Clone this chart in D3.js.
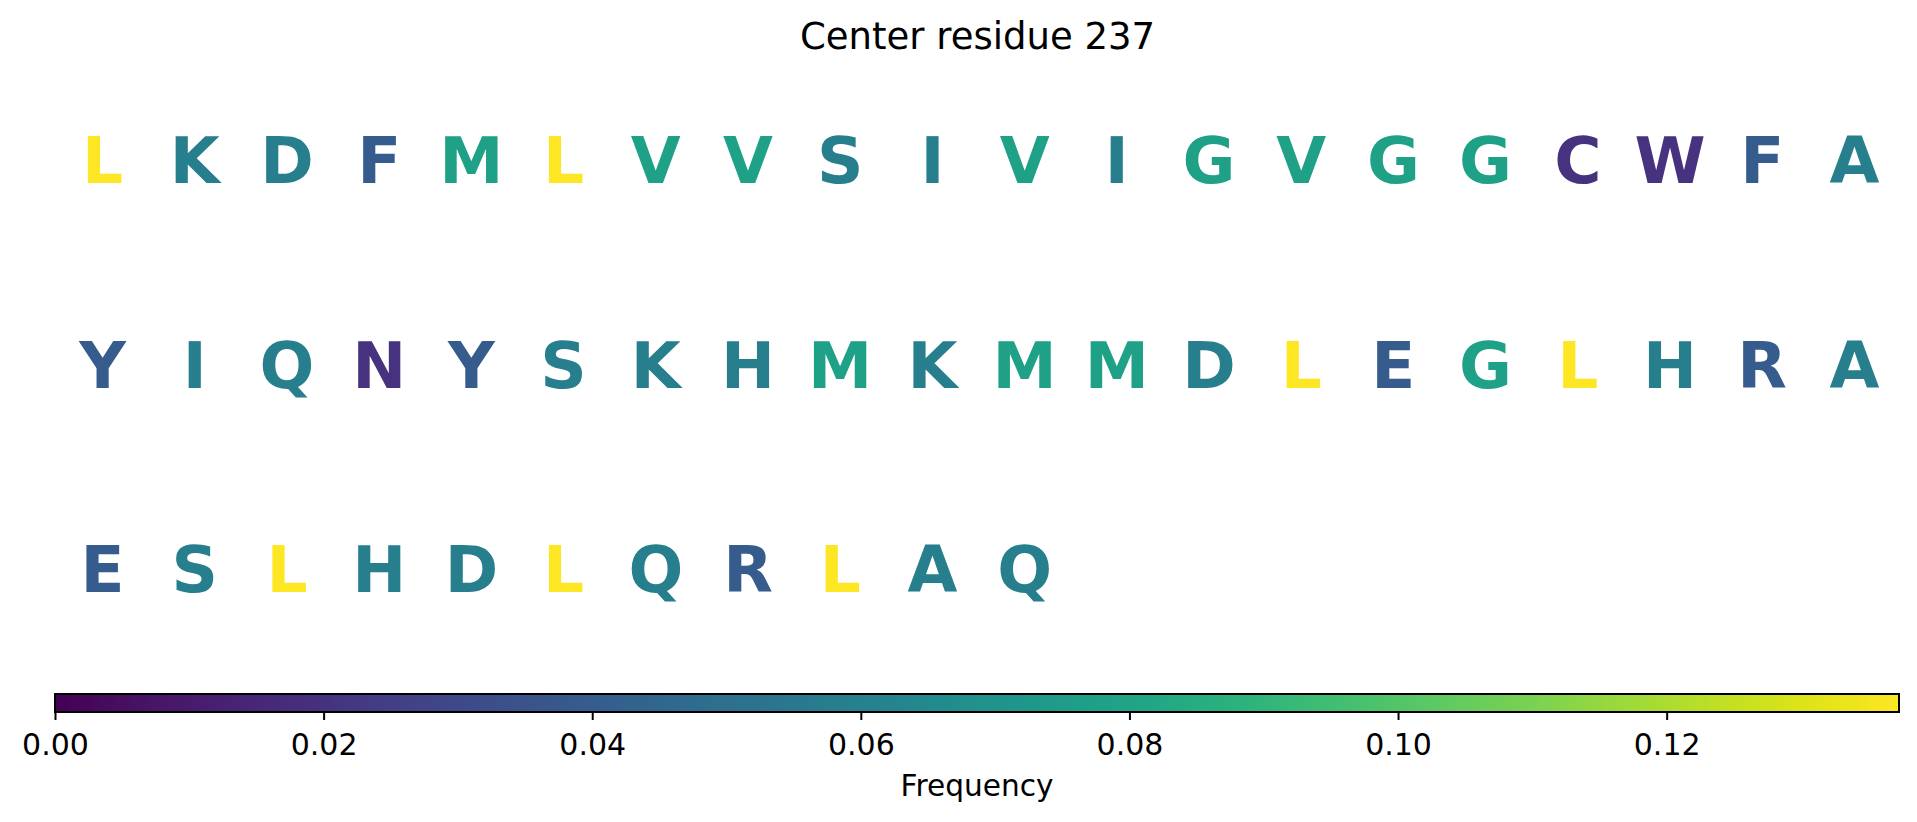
<!DOCTYPE html>
<html>
<head>
<meta charset="utf-8">
<script src="https://cdn.jsdelivr.net/npm/d3@7"></script>
<style>
  html, body { margin: 0; padding: 0; background: #fff; }
  svg { display: block; }
  text { font-family: "DejaVu Sans", sans-serif; }
</style>
</head>
<body>
<svg id="chart" width="1917" height="822"></svg>
<script>
// ---- data ----
const title = "Center residue 237";
const colorbarLabel = "Frequency";
const residues = [
  "L","K","D","F","M","L","V","V","S","I","V","I","G","V","G","G","C","W","F","A",
  "Y","I","Q","N","Y","S","K","H","M","K","M","M","D","L","E","G","L","H","R","A",
  "E","S","L","H","D","L","Q","R","L","A","Q"
];
// frequency of each residue type (colour value of each letter)
const aminoAcids  = ["L","K","D","F","M","V","S","I","G","C","W","A","Y","Q","N","H","E","R"];
const frequencies = [0.1373,0.0588,0.0588,0.0392,0.0784,0.0784,0.0588,0.0588,0.0784,0.0196,0.0196,0.0588,0.0392,0.0588,0.0196,0.0588,0.0392,0.0392];
const colorMin = 0;
const colorMax = 0.1373;
const tickValues = [0.00, 0.02, 0.04, 0.06, 0.08, 0.10, 0.12];
const nCols = 20;

// ---- layout ----
const svg = d3.select("#chart");
const plotLeft = 55, plotRight = 1899;
const gridTop = 57, gridBottom = 671;
const letterSize = 64.5;
const capHeight = 0.729 * letterSize;

const freqOf = new Map(aminoAcids.map((a, i) => [a, frequencies[i]]));
const nRows = Math.ceil(residues.length / nCols);

const x = d3.scaleBand().domain(d3.range(nCols)).range([plotLeft, plotRight]);
const y = d3.scaleBand().domain(d3.range(nRows)).range([gridTop, gridBottom]);
const color = d3.scaleSequential(d3.interpolateViridis).domain([colorMin, colorMax]);

// title
svg.append("text")
  .attr("x", (plotLeft + plotRight) / 2 + 0.5)
  .attr("y", 49)
  .attr("text-anchor", "middle")
  .attr("font-size", 37)
  .attr("fill", "#000")
  .text(title);

// letters
svg.append("g").selectAll("text")
  .data(residues.map((r, i) => ({ r, i })))
  .join("text")
  .attr("x", d => x(d.i % nCols) + x.bandwidth() / 2 + 1.5)
  .attr("y", d => y(Math.floor(d.i / nCols)) + y.bandwidth() / 2 + capHeight / 2)
  .attr("text-anchor", "middle")
  .attr("font-size", letterSize)
  .attr("font-weight", "bold")
  .attr("fill", d => color(freqOf.get(d.r)))
  .text(d => d.r);

// colorbar
const cbTop = 694, cbHeight = 18;
const cx = d3.scaleLinear().domain([colorMin, colorMax]).range([plotLeft, plotRight]);
const defs = svg.append("defs");
const grad = defs.append("linearGradient").attr("id", "viridisGrad")
  .attr("x1", "0%").attr("x2", "100%").attr("y1", "0%").attr("y2", "0%");
grad.selectAll("stop")
  .data(d3.range(0, 1.0001, 0.02))
  .join("stop")
  .attr("offset", d => (d * 100) + "%")
  .attr("stop-color", d => d3.interpolateViridis(d));

svg.append("rect")
  .attr("x", plotLeft).attr("y", cbTop)
  .attr("width", plotRight - plotLeft).attr("height", cbHeight)
  .attr("fill", "url(#viridisGrad)")
  .attr("stroke", "#000").attr("stroke-width", 2);

const axis = d3.axisBottom(cx)
  .tickValues(tickValues)
  .tickFormat(d3.format(".2f"))
  .tickSize(8)
  .tickPadding(6);

const axG = svg.append("g")
  .attr("transform", `translate(0,${cbTop + cbHeight})`)
  .call(axis);
axG.select(".domain").remove();
axG.selectAll(".tick line").attr("stroke", "#000").attr("stroke-width", 2);
axG.selectAll(".tick text")
  .attr("font-family", "DejaVu Sans, sans-serif")
  .attr("font-size", 30)
  .attr("fill", "#000")
  .attr("dy", null)
  .attr("y", 43);

svg.append("text")
  .attr("x", (plotLeft + plotRight) / 2)
  .attr("y", 796)
  .attr("text-anchor", "middle")
  .attr("font-size", 29.6)
  .attr("fill", "#000")
  .text(colorbarLabel);
</script>
</body>
</html>
